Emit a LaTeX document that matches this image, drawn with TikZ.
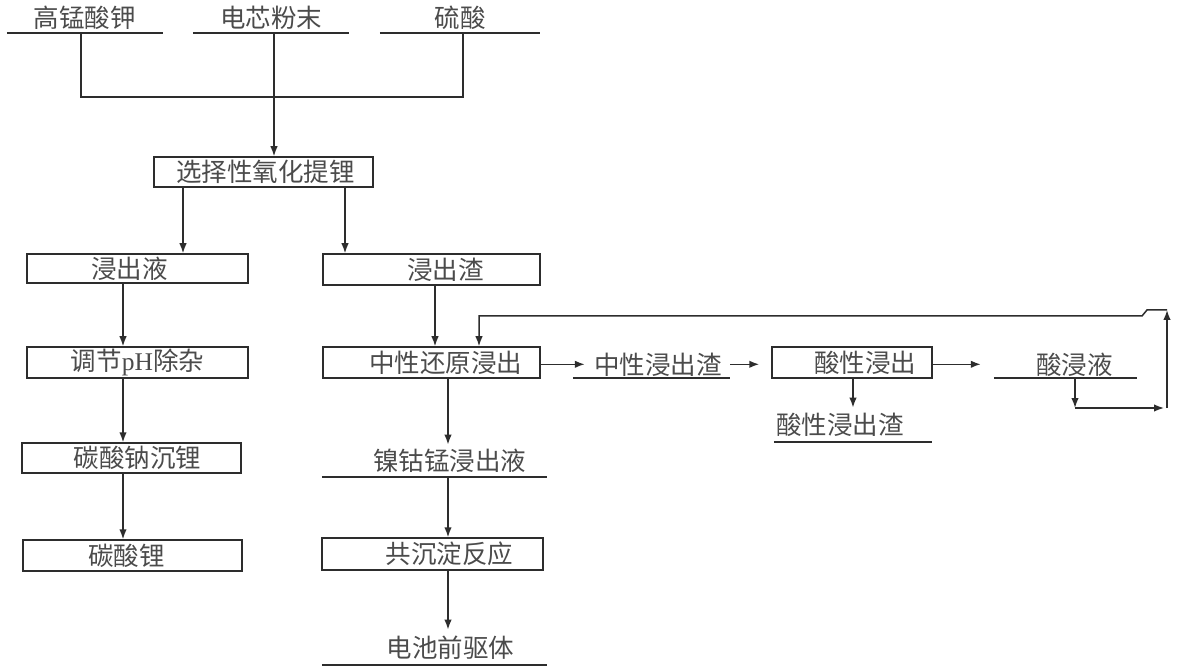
\documentclass[tikz,border=0pt]{standalone}
\usepackage{fontspec}
\newfontfamily\cjk{Noto Sans CJK SC}
\newfontfamily\lat{Liberation Serif}
\usetikzlibrary{arrows.meta}
\definecolor{ln}{RGB}{45,45,45}
\definecolor{tx}{RGB}{75,75,75}
\begin{document}
\begin{tikzpicture}[x=1pt,y=-1pt,
  every node/.style={font=\cjk\fontsize{25.5}{25.5}\selectfont, text=tx, inner sep=0pt},
  box/.style={draw=ln, line width=1.5pt},
  ul/.style={anchor=south, minimum height=30},
  line/.style={draw=ln, line width=1.5pt},
  arrow/.style={line, -{Latex[length=10pt,width=7.5pt]}}]
\useasboundingbox (0,0) rectangle (1181,668);
% top inputs
\node[ul, minimum width=156] (k) at (85,33) {高锰酸钾};
\node[ul, minimum width=156] (c) at (271,33) {电芯粉末};
\node[ul, minimum width=160] (s) at (460,33) {硫酸};
\foreach \n in {k,c,s} \draw[line] (\n.south west) -- (\n.south east);
\coordinate (j) at (274,97);
% boxes
\node[box, minimum width=219, minimum height=30, label={[xshift=2pt]center:选择性氧化提锂}] (ox) at (263.5,172) {};
\node[box, minimum width=221, minimum height=29, label={[xshift=-8pt]center:浸出液}] (lq) at (137.5,268.5) {};
\node[box, minimum width=217, minimum height=31, label={[xshift=14pt]center:浸出渣}] (rs) at (431.5,269.5) {};
\node[box, minimum width=221, minimum height=31, label={[xshift=0pt]center:调节{\lat pH}除杂}] (ph) at (137.5,362.5) {};
\node[box, minimum width=217, minimum height=31, label={[xshift=14pt]center:中性还原浸出}] (nr) at (431.5,362.5) {};
\node[box, minimum width=219, minimum height=30, label={[xshift=6pt]center:碳酸钠沉锂}] (na) at (131.5,458) {};
\node[box, minimum width=219, minimum height=31, label={[xshift=-6pt]center:碳酸锂}] (lc) at (132.5,555.5) {};
\node[box, minimum width=221, minimum height=32, label={[xshift=17pt]center:共沉淀反应}] (cp) at (432.5,554) {};
\node[box, minimum width=160, minimum height=31, label={[xshift=13pt]center:酸性浸出}] (ac) at (852,362.5) {};
% underlined products
\node[ul, minimum width=225, minimum height=32] (ncm) at (434.5,477) {\hspace*{30pt}镍钴锰浸出液};
\node[ul, minimum width=225, minimum height=35] (bp) at (434.5,665) {\hspace*{32pt}电池前驱体};
\node[ul, minimum width=157, minimum height=27] (nz) at (651.5,378) {\hspace*{13pt}中性浸出渣};
\node[ul, minimum width=158, minimum height=34] (az) at (853,442) {酸性浸出渣\hspace*{26pt}};
\node[ul, minimum width=143, minimum height=27] (al) at (1065.5,378) {\hspace*{18pt}酸浸液};
\foreach \n in {ncm,bp,nz,az,al} \draw[line] (\n.south west) -- (\n.south east);
% connectors
\draw[line] ([xshift=-4pt]k.south) |- (j);
\draw[line] ([xshift=3pt]s.south) |- (j);
\draw[arrow] ([xshift=3pt]c.south) -- ([xshift=3pt]c.south |- ox.north);
\draw[arrow] ([xshift=-80.5pt]ox.south) -- ([xshift=-80.5pt]ox.south |- lq.north);
\draw[arrow] ([xshift=81.5pt]ox.south) -- ([xshift=81.5pt]ox.south |- rs.north);
\draw[arrow] ([xshift=-14.5pt]lq.south) -- ([xshift=-14.5pt]lq.south |- ph.north);
\draw[arrow] ([xshift=-14.5pt]ph.south) -- ([xshift=-14.5pt]ph.south |- na.north);
\draw[arrow] ([xshift=-8.5pt]na.south) -- ([xshift=-8.5pt]na.south |- lc.north);
\draw[arrow] ([xshift=3.5pt]rs.south) -- ([xshift=3.5pt]rs.south |- nr.north);
\draw[arrow] ([xshift=16.5pt]nr.south) -- ([xshift=16.5pt]nr.south |- ncm.north);
\draw[arrow] ([xshift=13.5pt]ncm.south) -- ([xshift=13.5pt]ncm.south |- cp.north);
\draw[arrow] ([xshift=15.5pt]cp.south) -- ([xshift=15.5pt]cp.south |- bp.north);
\draw[arrow] (nr.east |- nz.west) -- ([xshift=12pt]nz.west);
\draw[arrow] (nz.east) -- ([xshift=-12pt]ac.west |- nz.east);
\draw[arrow] (ac.east |- al.west) -- ([xshift=-13pt]al.west);
\draw[arrow] (ac.south -| az.north) -- (az.north);
% recycle loop
\coordinate (r1) at (1075,408);
\coordinate (r2) at (1167,408);
\coordinate (r3) at (1167,310);
\coordinate (r4) at (1147,310);
\coordinate (r5) at (1142,316);
\coordinate (lx) at (479,316);
\draw[arrow] (al.south -| r1) -- (r1);
\draw[arrow] (r1) -- ([xshift=-3pt]r2);
\draw[arrow] (r2) -- (r3);
\draw[arrow] (r3) -- (r4) -- (r5) -- (lx) -- (lx |- nr.north);
\end{tikzpicture}
\end{document}
